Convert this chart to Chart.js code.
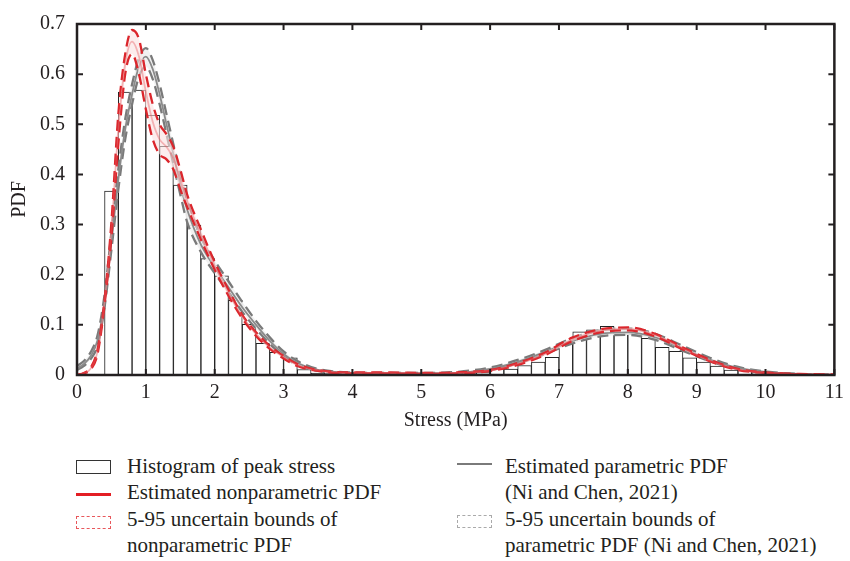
<!DOCTYPE html>
<html>
<head>
<meta charset="utf-8">
<script src="https://cdn.jsdelivr.net/npm/chart.js@4/dist/chart.umd.min.js"></script>
<style>
  html,body{margin:0;padding:0;background:#fff;}
  #wrap{position:relative;width:850px;height:561px;overflow:hidden;font-family:'Liberation Serif','DejaVu Serif',serif;color:#231f20;}
  canvas{position:absolute;left:0;top:0;}
  .lt{position:absolute;font-size:21px;line-height:26px;white-space:nowrap;}
  .sym{position:absolute;box-sizing:border-box;}
</style>
</head>
<body>
<div id="wrap">
  <canvas id="c" width="850" height="445"></canvas>
  <div class="sym" style="left:76px;top:460px;width:35px;height:14px;border:1.5px solid #333;"></div>
  <div class="lt" style="left:127px;top:453px;">Histogram of peak stress</div>
  <div class="sym" style="left:76px;top:493px;width:35px;height:2.5px;background:#e31e24;"></div>
  <div class="lt" style="left:127px;top:479px;">Estimated nonparametric PDF</div>
  <div class="sym" style="left:76px;top:516px;width:35px;height:13px;border:1px dashed #e8575b;"></div>
  <div class="lt" style="left:127px;top:506px;">5-95 uncertain bounds of</div>
  <div class="lt" style="left:127px;top:532px;">nonparametric PDF</div>
  <div class="sym" style="left:457px;top:463px;width:35px;height:2px;background:#7a7a7a;"></div>
  <div class="lt" style="left:505px;top:453px;">Estimated parametric PDF</div>
  <div class="lt" style="left:505px;top:479px;">(Ni and Chen, 2021)</div>
  <div class="sym" style="left:457px;top:515px;width:35px;height:13px;border:1px dashed #aaa;"></div>
  <div class="lt" style="left:505px;top:506px;">5-95 uncertain bounds of</div>
  <div class="lt" style="left:505px;top:532px;">parametric PDF (Ni and Chen, 2021)</div>
</div>
<script>
// Histogram of peak stress (bin width 0.2 MPa), bin start values and heights
const binStarts = [0.4,0.6,0.8,1.0,1.2,1.4,1.6,1.8,2.0,2.2,2.4,2.6,2.8,3.0,3.2,3.4,3.6,3.8,4.0,4.2,4.4,4.6,4.8,5.0,5.2,5.4,5.6,5.8,6.0,6.2,6.4,6.6,6.8,7.0,7.2,7.4,7.6,7.8,8.0,8.2,8.4,8.6,8.8,9.0,9.2,9.4,9.6,9.8,10.0];
const binHeights = [0.367,0.564,0.568,0.518,0.456,0.379,0.299,0.232,0.198,0.149,0.101,0.063,0.045,0.034,0.011,0.004,0.003,0.002,0.002,0.001,0.002,0.002,0.003,0.002,0.004,0.004,0.003,0.005,0.014,0.012,0.019,0.026,0.035,0.061,0.086,0.090,0.097,0.082,0.081,0.073,0.055,0.047,0.034,0.026,0.018,0.010,0.011,0.005,0.002];

// Stress grid for curves
const stress = [0,0.1,0.2,0.3,0.4,0.5,0.6,0.7,0.8,0.9,1.0,1.1,1.2,1.3,1.4,1.5,1.6,1.8,2.0,2.2,2.4,2.6,2.8,3.0,3.2,3.5,4.0,4.5,5.0,5.5,6.0,6.4,6.8,7.2,7.6,8.0,8.4,8.8,9.2,9.6,10.0,10.5,11.0];

// Nonparametric PDF (estimate, 5% and 95% bounds)
const nonparMedian = [0,0.004,0.013,0.048,0.145,0.29,0.49,0.62,0.665,0.635,0.565,0.505,0.47,0.455,0.432,0.39,0.347,0.28,0.218,0.164,0.117,0.082,0.055,0.036,0.02,0.009,0.004,0.004,0.003,0.004,0.009,0.022,0.042,0.071,0.088,0.092,0.08,0.053,0.028,0.011,0.004,0.001,0];
const nonparLower  = [0,0.003,0.011,0.043,0.14,0.275,0.46,0.60,0.64,0.60,0.53,0.47,0.44,0.43,0.41,0.37,0.335,0.27,0.21,0.158,0.113,0.078,0.052,0.033,0.018,0.008,0.003,0.003,0.002,0.003,0.008,0.02,0.04,0.068,0.085,0.089,0.077,0.051,0.027,0.01,0.004,0.001,0];
const nonparUpper  = [0,0.004,0.015,0.052,0.15,0.305,0.52,0.64,0.688,0.67,0.60,0.54,0.50,0.48,0.455,0.41,0.36,0.29,0.225,0.17,0.12,0.085,0.058,0.038,0.022,0.01,0.005,0.005,0.004,0.005,0.01,0.024,0.045,0.075,0.091,0.095,0.082,0.055,0.03,0.012,0.005,0.002,0.001];

// Parametric PDF (Ni and Chen, 2021): estimate, 5% and 95% bounds
const parMean  = [0.013,0.022,0.038,0.07,0.145,0.265,0.39,0.49,0.56,0.615,0.635,0.61,0.56,0.50,0.44,0.38,0.33,0.26,0.215,0.175,0.135,0.10,0.068,0.042,0.024,0.01,0.004,0.003,0.003,0.004,0.012,0.026,0.046,0.068,0.082,0.085,0.075,0.052,0.03,0.014,0.006,0.002,0];
const parLower = [0.01,0.018,0.032,0.06,0.135,0.25,0.37,0.47,0.54,0.595,0.615,0.59,0.54,0.48,0.42,0.36,0.305,0.245,0.203,0.165,0.126,0.092,0.062,0.037,0.02,0.008,0.003,0.002,0.002,0.003,0.01,0.023,0.042,0.063,0.077,0.08,0.07,0.048,0.027,0.012,0.005,0.001,0];
const parUpper = [0.018,0.028,0.046,0.08,0.16,0.285,0.41,0.51,0.58,0.632,0.652,0.628,0.58,0.52,0.46,0.40,0.35,0.275,0.228,0.187,0.146,0.108,0.075,0.047,0.028,0.012,0.005,0.004,0.004,0.006,0.015,0.03,0.05,0.074,0.089,0.093,0.082,0.058,0.034,0.016,0.007,0.002,0.001];

const xTicks = [0,1,2,3,4,5,6,7,8,9,10,11];
const yTicks = [0,0.1,0.2,0.3,0.4,0.5,0.6,0.7];

const pts = arr => stress.map((x,i)=>({x:x,y:arr[i]}));
const BIN = 0.2;
const FONT = "'Liberation Serif', 'DejaVu Serif', serif";
const INK = '#231f20';

const lineBase = {type:'line', pointRadius:0, borderWidth:2.3, cubicInterpolationMode:'monotone', fill:false};
const DASH = [11,6];

const frame = {
  id:'frame',
  afterDatasetsDraw(chart){
    const {ctx, chartArea:a, scales:{x,y}} = chart;
    ctx.save();
    ctx.strokeStyle = INK;
    ctx.lineWidth = 2;
    const L = 6;
    ctx.beginPath();
    xTicks.forEach(v=>{
      const px = x.getPixelForValue(v);
      ctx.moveTo(px,a.bottom); ctx.lineTo(px,a.bottom-L);
      ctx.moveTo(px,a.top); ctx.lineTo(px,a.top+L);
    });
    yTicks.forEach(v=>{
      const py = y.getPixelForValue(v);
      ctx.moveTo(a.left,py); ctx.lineTo(a.left+L,py);
      ctx.moveTo(a.right,py); ctx.lineTo(a.right-L,py);
    });
    ctx.stroke();
    ctx.lineWidth = 2.5;
    ctx.strokeRect(a.left,a.top,a.right-a.left,a.bottom-a.top);
    ctx.restore();
  }
};

new Chart(document.getElementById('c'), {
  type:'line',
  data:{
    datasets:[
      {type:'bar', label:'Histogram of peak stress', data:binStarts.map((s,i)=>({x:s+BIN/2,y:binHeights[i]})),
        backgroundColor:'#ffffff', borderColor:'#222', borderWidth:1, barPercentage:1, categoryPercentage:1, order:10},
      Object.assign({}, lineBase, {label:'par upper', data:pts(parUpper), borderColor:'#7a7a7a', borderDash:DASH, fill:'+1', backgroundColor:'rgba(240,240,240,0.9)', order:9}),
      Object.assign({}, lineBase, {label:'par lower', data:pts(parLower), borderColor:'#7a7a7a', borderDash:DASH, order:8}),
      Object.assign({}, lineBase, {label:'Estimated parametric PDF', data:pts(parMean), borderColor:'#8a8a8a', borderWidth:1.8, order:7}),
      Object.assign({}, lineBase, {label:'nonpar upper', data:pts(nonparUpper), borderColor:'#db262c', borderDash:DASH, fill:'+1', backgroundColor:'rgba(250,225,225,0.6)', order:6}),
      Object.assign({}, lineBase, {label:'nonpar lower', data:pts(nonparLower), borderColor:'#db262c', borderDash:DASH, order:5}),
      Object.assign({}, lineBase, {label:'Estimated nonparametric PDF', data:pts(nonparMedian), borderColor:'rgba(230,90,95,0.4)', borderWidth:1.8, order:4})
    ]
  },
  options:{
    responsive:false,
    animation:false,
    events:[],
    layout:{padding:{top:13,right:12,left:0,bottom:0}},
    plugins:{legend:{display:false}, tooltip:{enabled:false}},
    scales:{
      x:{type:'linear', min:0, max:11, offset:false,
        grid:{display:false, offset:false, drawTicks:false},
        border:{display:false},
        afterBuildTicks: s => { s.ticks = xTicks.map(v=>({value:v})); },
        afterFit: s => { s.height = 70; },
        ticks:{color:INK, font:{family:FONT,size:20}, padding:6, maxRotation:0, autoSkip:false},
        title:{display:true, text:'Stress (MPa)', color:INK, font:{family:FONT,size:20}, padding:{top:0,bottom:12}}
      },
      y:{type:'linear', min:0, max:0.7,
        grid:{display:false, drawTicks:false},
        border:{display:false},
        afterBuildTicks: s => { s.ticks = yTicks.map(v=>({value:v})); },
        afterFit: s => { s.width = 77; },
        ticks:{color:INK, font:{family:FONT,size:20}, padding:12, callback:v=>String(+v.toFixed(1))},
        title:{display:true, text:'PDF', color:INK, font:{family:FONT,size:20}, padding:{top:8,bottom:0}}
      }
    }
  },
  plugins:[frame]
});
</script>
</body>
</html>
